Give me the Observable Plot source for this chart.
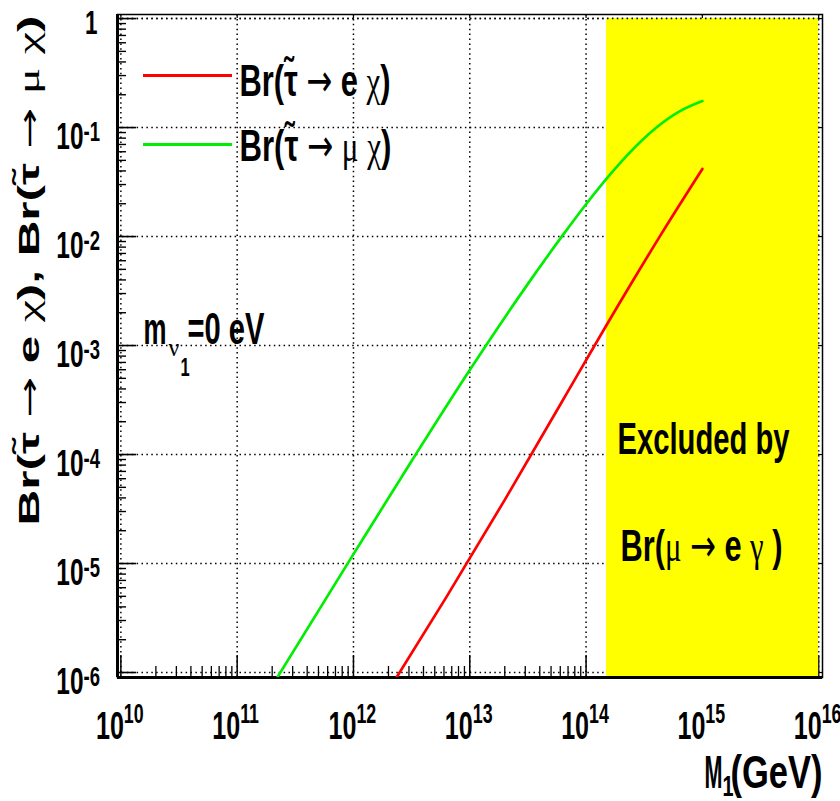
<!DOCTYPE html>
<html><head><meta charset="utf-8">
<script src="https://cdn.jsdelivr.net/npm/d3@7"></script>
<script src="https://cdn.jsdelivr.net/npm/@observablehq/plot@0.6"></script>
<style>html,body{margin:0;padding:0;background:#fff} svg{display:block}</style>
</head><body><div id="chart"></div>
<script>
// ---- data ----
const greenM1 = [2.21e11, 1.0e12, 3.162e12, 1.0e13, 3.162e13, 6.31e13, 1.0e14, 1.585e14, 2.512e14, 3.981e14, 6.31e14, 1.0e15];
const greenBr = [9.0e-7, 1.219e-5, 8.73e-5, 5.97e-4, 3.68e-3, 1.03e-2, 1.98e-2, 3.64e-2, 6.28e-2, 9.91e-2, 0.140, 0.175];
const redM1 = [2.344e12, 6.31e12, 2.0e13, 6.31e13, 2.0e14, 4.47e14, 1.0e15];
const redBr = [9.0e-7, 4.94e-6, 3.84e-5, 3.15e-4, 2.59e-3, 1.07e-2, 4.17e-2];
const xTickExponents = [10, 11, 12, 13, 14, 15, 16];
const yTickExponents = [0, -1, -2, -3, -4, -5, -6];
const excludedFrom = 1.5e14, excludedTo = 1e16;
const legendLabels = ["Br(\u03C4\u0303 \u2192 e \u03C7)", "Br(\u03C4\u0303 \u2192 \u03BC \u03C7)"];
const excludedText = ["Excluded by", "Br(\u03BC \u2192 e \u03B3 )"];
const yTitle = "Br(\u03C4\u0303 \u2192 e \u03C7), Br(\u03C4\u0303 \u2192 \u03BC \u03C7)";

// ---- layout ----
const W = 840, H = 801, mL = 117, mR = 18, mT = 14, mB = 124;
const frameW = W - mL - mR, frameH = H - mT - mB;
const xDomain = [9.354e9, 1.079e16];
const yDomain = [9e-7, 1.09];
const FONT = "'Liberation Sans', Arial, Helvetica, 'DejaVu Sans', sans-serif";
const RED = "#ff0000", GREEN = "#00ee00";

const xDecades = xTickExponents.map(e => 10 ** e);
const yDecades = yTickExponents.map(e => 10 ** e);
const xMinor = [], yMinor = [];
for (let e = 10; e < 16; e++) for (let k = 2; k <= 9; k++) xMinor.push(k * 10 ** e);
for (let e = -6; e < 0; e++) for (let k = 2; k <= 9; k++) yMinor.push(k * 10 ** e);

const green = greenM1.map((m, i) => ({m, br: greenBr[i]}));
const red = redM1.map((m, i) => ({m, br: redBr[i]}));
const yExpTicks = yTickExponents.filter(e => e !== 0).map(e => ({v: 10 ** e, e}));
const xTicks = xTickExponents.map(e => ({v: 10 ** e, e}));

const grid = {stroke: "#000", strokeWidth: 1.5, strokeDasharray: "1.5,3.4"};
const txt = {fontFamily: FONT, fontWeight: "bold", fill: "#000", lineAnchor: "bottom"};

const plot = Plot.plot({
  width: W, height: H,
  marginLeft: mL, marginRight: mR, marginTop: mT, marginBottom: mB,
  x: {type: "log", domain: xDomain, axis: null},
  y: {type: "log", domain: yDomain, axis: null},
  style: {background: "#fff", fontFamily: FONT},
  marks: [
    // grid
    Plot.ruleX(xDecades, grid),
    Plot.ruleY(yDecades, grid),
    // ticks (inward)
    Plot.ruleX(xDecades, {insetTop: frameH - 22, strokeWidth: 1.5}),
    Plot.ruleX(xMinor, {insetTop: frameH - 11, strokeWidth: 1.3}),
    Plot.ruleY(yDecades, {insetRight: frameW - 19, strokeWidth: 1.6}),
    Plot.ruleY(yMinor, {insetRight: frameW - 9, strokeWidth: 1.4}),
    Plot.ruleX(xDecades, {insetBottom: frameH - 4, strokeWidth: 1.2}),
    Plot.ruleY(yDecades, {insetLeft: frameW - 5, strokeWidth: 1.2}),
    // excluded region
    Plot.rect([{x1: excludedFrom, x2: excludedTo, y1: yDomain[0], y2: 1}], {x1: "x1", x2: "x2", y1: "y1", y2: "y2", fill: "#ffff00"}),
    Plot.ruleY([1], grid),
    // frame and axes
    Plot.frame({stroke: "#000", strokeWidth: 1.5}),
    Plot.ruleX([xDomain[0]], {strokeWidth: 3}),
    Plot.ruleY([yDomain[0]], {strokeWidth: 3}),
    // curves
    Plot.line(green, {x: "m", y: "br", stroke: GREEN, strokeWidth: 2.7, curve: "monotone-x", clip: true}),
    Plot.line(red, {x: "m", y: "br", stroke: RED, strokeWidth: 2.7, curve: "monotone-x", clip: true}),
    // legend
    Plot.ruleY([0.3004], {x1: 1.565e10, x2: 9.12e10, stroke: RED, strokeWidth: 3}),
    Plot.ruleY([0.0700], {x1: 1.565e10, x2: 9.12e10, stroke: GREEN, strokeWidth: 3}),
    Plot.text([legendLabels[0]], {...txt, text: d => d, frameAnchor: "top-left", textAnchor: "start", dx: 122, dy: 81, fontSize: 45}),
    Plot.text([legendLabels[1]], {...txt, text: d => d, frameAnchor: "top-left", textAnchor: "start", dx: 122, dy: 146, fontSize: 45}),
    // m_nu1 = 0 eV
    Plot.text(["m"], {...txt, text: d => d, frameAnchor: "top-left", textAnchor: "start", dx: 26, dy: 329, fontSize: 45}),
    Plot.text(["\u03BD"], {...txt, text: d => d, frameAnchor: "top-left", textAnchor: "start", dx: 51, dy: 341, fontSize: 26}),
    Plot.text(["1"], {...txt, text: d => d, frameAnchor: "top-left", textAnchor: "start", dx: 63, dy: 361, fontSize: 25}),
    Plot.text(["=0 eV"], {...txt, text: d => d, frameAnchor: "top-left", textAnchor: "start", dx: 70, dy: 329, fontSize: 45}),
    // excluded text
    Plot.text([excludedText[0]], {...txt, text: d => d, frameAnchor: "top-left", textAnchor: "start", dx: 500, dy: 439, fontSize: 45}),
    Plot.text([excludedText[1]], {...txt, text: d => d, frameAnchor: "top-left", textAnchor: "start", dx: 503, dy: 546, fontSize: 45}),
    // y tick labels
    Plot.text([1], {...txt, y: d => d, text: d => String(d), frameAnchor: "left", textAnchor: "end", dx: -20, dy: 15, fontSize: 34}),
    Plot.text(yExpTicks, {...txt, y: "v", text: () => "10", frameAnchor: "left", textAnchor: "end", dx: -34, dy: 21.5, fontSize: 37}),
    Plot.text(yExpTicks, {...txt, y: "v", text: d => "-" + Math.abs(d.e), frameAnchor: "left", textAnchor: "start", dx: -34, dy: 13.5, fontSize: 28}),
    // x tick labels
    Plot.text(xTicks, {...txt, x: "v", text: () => "10", frameAnchor: "bottom", textAnchor: "end", dx: 3, dy: 61, fontSize: 38}),
    Plot.text(xTicks, {...txt, x: "v", text: d => String(d.e), frameAnchor: "bottom", textAnchor: "start", dx: 3, dy: 45, fontSize: 27}),
    // x axis title
    Plot.text(["M"], {...txt, text: d => d, frameAnchor: "bottom-right", textAnchor: "start", dx: -118, dy: 110, fontSize: 47}),
    Plot.text(["1"], {...txt, text: d => d, frameAnchor: "bottom-right", textAnchor: "start", dx: -100, dy: 118, fontSize: 30}),
    Plot.text(["(GeV)"], {...txt, text: d => d, frameAnchor: "bottom-right", textAnchor: "end", dx: 0, dy: 110, fontSize: 47}),
    // y axis title
    Plot.text([yTitle], {...txt, text: d => d, frameAnchor: "left", textAnchor: "middle", rotate: -90, dx: -79, dy: -75.5, fontSize: 40})
  ]
});
document.getElementById("chart").appendChild(plot);

// symbol-like runs (greek letters, arrows) drawn in a lighter face, as in the reference
const SVGNS = "http://www.w3.org/2000/svg";
function styleRuns(t) {
  const s = t.textContent;
  if (!/[\u0370-\u03FF\u2190-\u21FF]/.test(s)) return;
  t.textContent = "";
  const re = /([\u0370-\u03FF]\u0303)|([\u0370-\u03FF])|([\u2190-\u21FF])|([^\u0370-\u03FF\u2190-\u21FF]+)/g;
  let m;
  while ((m = re.exec(s))) {
    const ts = document.createElementNS(SVGNS, "tspan");
    ts.textContent = m[0];
    if (m[2]) { ts.setAttribute("font-family", "'Liberation Serif', 'DejaVu Serif', serif"); ts.setAttribute("font-weight", "normal"); }
    else if (m[3]) { ts.setAttribute("font-family", "'DejaVu Sans', sans-serif"); ts.setAttribute("font-weight", "normal"); }
    t.appendChild(ts);
  }
}

// condensed lettering as in the reference
const fitWidths = new Map([
  [legendLabels[0], 151], [legendLabels[1], 152],
  [excludedText[0], 172], [excludedText[1], 162],
  ["(GeV)", 92], ["M", 18], ["m", 23], ["\u03BD", 11], ["=0 eV", 77]
]);
plot.querySelectorAll("text").forEach(t => {
  const s = t.textContent;
  styleRuns(t);
  let tr = t.getAttribute("transform") || "";
  const x = t.getAttribute("x"), y = t.getAttribute("y");
  if (x !== null || y !== null) {
    tr = `${tr} translate(${x ?? 0},${y ?? 0})`;
    t.removeAttribute("x"); t.removeAttribute("y");
  }
  let sx = 0.66, sy = 1;
  const w = t.getBBox().width;
  if (s === yTitle) { sx = 510 / w; sy = 0.72; }
  else if (fitWidths.has(s)) sx = fitWidths.get(s) / w;
  t.setAttribute("transform", `${tr} scale(${sx},${sy})`);
});
</script>
</body></html>
